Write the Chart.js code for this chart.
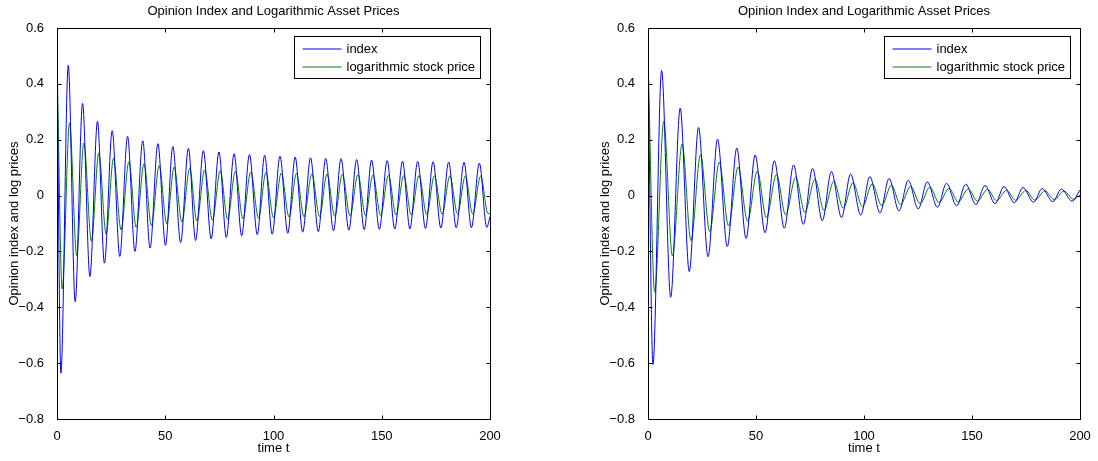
<!DOCTYPE html>
<html>
<head>
<meta charset="utf-8">
<title>Opinion Index and Logarithmic Asset Prices</title>
<script src="https://cdn.jsdelivr.net/npm/chart.js@4.4.1/dist/chart.umd.min.js"></script>
<style>
  html, body { margin: 0; padding: 0; background: #fff; }
  #wrap { position: relative; width: 1098px; height: 461px; }
  canvas { position: absolute; top: 0; }
</style>
</head>
<body>
<div id="wrap">
  <canvas id="leftChart" width="549" height="461" style="left:0"></canvas>
  <canvas id="rightChart" width="549" height="461" style="left:549px"></canvas>
</div>
<script>
// text
const chartTitle = 'Opinion Index and Logarithmic Asset Prices';
const xTitle = 'time t';
const yTitle = 'Opinion index and log prices';
const legendLabels = ['index', 'logarithmic stock price'];

// axes
const xTicks = [0, 50, 100, 150, 200];
const yTicks = [-0.8, -0.6, -0.4, -0.2, 0, 0.2, 0.4, 0.6];

// left panel: turning points (time, value)
const leftIndexT = [0, 1.8, 5.2, 8.4, 11.8, 15.2, 18.7, 21.9, 25.5, 29, 32.6, 36, 39.6, 43, 46.6, 50.1, 53.5, 57.1, 60.7, 64,
  67.6, 71.2, 74.8, 78.2, 81.8, 85.3, 88.9, 92.5, 95.9, 99.4, 103, 106.6, 110, 113.5, 117.1, 120.7, 124.1, 127.7, 131.2, 134.8,
  138.4, 141.9, 145.3, 148.9, 152.5, 156, 159.6, 163, 166.6, 170.2, 173.7, 177.3, 180.9, 184.4, 188, 191.4, 195.1, 198.5, 200];
const leftIndexV = [0.5, -0.636, 0.466, -0.38, 0.33, -0.29, 0.266, -0.242, 0.232, -0.218, 0.212, -0.2, 0.196, -0.188, 0.186, -0.178, 0.176, -0.168, 0.169, -0.161,
  0.161, -0.155, 0.156, -0.15, 0.15, -0.144, 0.147, -0.14, 0.144, -0.138, 0.141, -0.135, 0.138, -0.131, 0.135, -0.129, 0.133, -0.126, 0.132, -0.124,
  0.129, -0.122, 0.127, -0.121, 0.125, -0.12, 0.123, -0.119, 0.122, -0.118, 0.121, -0.116, 0.12, -0.115, 0.119, -0.115, 0.116, -0.114, -0.075];

const leftPriceT = [0, 2.4, 5.8, 9.1, 12.4, 15.9, 19.3, 22.7, 26.1, 29.6, 33.2, 36.6, 40.2, 43.6, 47.2, 50.7, 54.1, 57.7, 61.3, 64.6,
  68.2, 71.8, 75.4, 78.8, 82.4, 85.9, 89.5, 93.1, 96.5, 100, 103.6, 107.2, 110.6, 114.1, 117.7, 121.3, 124.7, 128.3, 131.8, 135.4,
  139, 142.5, 145.9, 149.5, 153.1, 156.6, 160.2, 163.6, 167.2, 170.8, 174.3, 177.9, 181.5, 185, 188.6, 192, 195.7, 199.1, 200];
const leftPriceV = [0.5, -0.335, 0.26, -0.215, 0.188, -0.164, 0.152, -0.138, 0.133, -0.123, 0.121, -0.114, 0.114, -0.107, 0.107, -0.101, 0.102, -0.095, 0.097, -0.091,
  0.092, -0.088, 0.089, -0.085, 0.087, -0.083, 0.085, -0.081, 0.083, -0.079, 0.081, -0.077, 0.079, -0.076, 0.078, -0.075, 0.077, -0.074, 0.076, -0.073,
  0.075, -0.072, 0.074, -0.071, 0.073, -0.07, 0.072, -0.069, 0.072, -0.068, 0.071, -0.067, 0.071, -0.066, 0.07, -0.066, 0.07, -0.065, -0.064];

// right panel
const rightIndexT = [0, 2.3, 6.3, 10.5, 14.9, 19.1, 23.4, 27.8, 32.2, 36.7, 41.1, 45.4, 49.6, 54.2, 58.5, 63.1, 67.4, 71.9, 76.2, 80.7,
  84.9, 89.6, 93.8, 98.5, 102.7, 107.4, 111.6, 116.2, 120.5, 125.1, 129.3, 134, 138.2, 142.9, 147.1, 151.8, 156, 160.7, 164.8, 169.6,
  173.6, 178.5, 182.5, 187.4, 191.4, 196.3, 200];
const rightIndexV = [0.5, -0.605, 0.448, -0.364, 0.313, -0.272, 0.244, -0.219, 0.202, -0.183, 0.17, -0.154, 0.145, -0.133, 0.125, -0.117, 0.11, -0.103, 0.097, -0.09,
  0.086, -0.079, 0.077, -0.07, 0.068, -0.062, 0.061, -0.055, 0.055, -0.048, 0.049, -0.042, 0.044, -0.037, 0.041, -0.032, 0.036, -0.029, 0.032, -0.026,
  0.029, -0.024, 0.025, -0.022, 0.023, -0.02, 0.02];

const rightPriceT = [0, 3.1, 7.3, 11.3, 15.8, 19.9, 24.3, 28.6, 33, 37.3, 41.7, 46.1, 50.6, 54.8, 59.5, 63.7, 68.4, 72.6, 77.3, 81.5,
  86, 90.4, 94.9, 99.3, 103.8, 108.2, 112.7, 116.9, 121.6, 126, 130.5, 134.7, 139.4, 143.6, 148.3, 152.5, 157.2, 161.4, 166, 170.2,
  174.9, 179.1, 183.8, 188, 192.7, 196.9, 200];
const rightPriceV = [0.5, -0.346, 0.265, -0.216, 0.185, -0.161, 0.146, -0.129, 0.119, -0.109, 0.102, -0.092, 0.087, -0.079, 0.075, -0.069, 0.066, -0.06, 0.058, -0.053,
  0.051, -0.045, 0.046, -0.04, 0.042, -0.036, 0.037, -0.032, 0.033, -0.029, 0.03, -0.025, 0.026, -0.023, 0.024, -0.02, 0.022, -0.018, 0.019, -0.017,
  0.018, -0.016, 0.017, -0.014, 0.016, -0.013, 0.002];

const FONT = "'Liberation Sans', Arial, Helvetica, sans-serif";
const BLUE = '#0000ff';
const GREEN = '#008000';

function toPoints(ts, vs) {
    return ts.map((t, i) => ({x: t, y: vs[i]}));
}

function fmtTick(v) {
    return v === 0 ? '0' : String(v).replace('-', '\u2212');
}

// box, inward ticks, title and legend in the matlab look
const matlabFrame = {
    id: 'matlabFrame',
    afterDatasetsDraw(chart) {
        const {ctx, chartArea: a, scales: {x, y}} = chart;
        const L = Math.round(a.left) + 0.5, R = Math.round(a.right) + 0.5;
        const T = Math.round(a.top) + 0.5, B = Math.round(a.bottom) + 0.5;
        ctx.save();
        ctx.strokeStyle = '#000';
        ctx.lineWidth = 1;
        ctx.strokeRect(L, T, R - L, B - T);
        ctx.beginPath();
        xTicks.forEach(v => {
            const px = Math.round(x.getPixelForValue(v)) + 0.5;
            ctx.moveTo(px, B); ctx.lineTo(px, B - 4);
            ctx.moveTo(px, T); ctx.lineTo(px, T + 4);
        });
        yTicks.forEach(v => {
            const py = Math.round(y.getPixelForValue(v)) + 0.5;
            ctx.moveTo(L, py); ctx.lineTo(L + 4, py);
            ctx.moveTo(R, py); ctx.lineTo(R - 4, py);
        });
        ctx.stroke();

        ctx.fillStyle = '#000';
        ctx.font = '13px ' + FONT;
        ctx.textAlign = 'center';
        ctx.textBaseline = 'middle';
        ctx.fillText(chartTitle, (a.left + a.right) / 2, 11);

        // legend
        ctx.textAlign = 'left';
        const textW = Math.max(...legendLabels.map(s => ctx.measureText(s).width));
        const bw = Math.round(52 + textW + 5), bh = 42;
        const bx = R - 10 - bw, by = T + 8;
        ctx.fillStyle = '#fff';
        ctx.fillRect(bx, by, bw, bh);
        ctx.strokeStyle = '#000';
        ctx.strokeRect(bx, by, bw, bh);
        const rows = [by + 12.5, by + 30.5];
        [BLUE, GREEN].forEach((c, i) => {
            ctx.beginPath();
            ctx.strokeStyle = c;
            ctx.lineWidth = 1.2;
            ctx.moveTo(bx + 8, Math.round(rows[i]));
            ctx.lineTo(bx + 47, Math.round(rows[i]));
            ctx.stroke();
            ctx.fillStyle = '#000';
            ctx.fillText(legendLabels[i], bx + 52, rows[i]);
        });
        ctx.restore();
    }
};

function renderPanel(id, indexT, indexV, priceT, priceV, pad) {
    const ctx = document.getElementById(id).getContext('2d');
    new Chart(ctx, {
        type: 'line',
        data: {
            datasets: [
                {label: legendLabels[0], data: toPoints(indexT, indexV), borderColor: BLUE, borderWidth: 1,
                 pointRadius: 0, fill: false, cubicInterpolationMode: 'monotone'},
                {label: legendLabels[1], data: toPoints(priceT, priceV), borderColor: GREEN, borderWidth: 1,
                 pointRadius: 0, fill: false, cubicInterpolationMode: 'monotone'}
            ]
        },
        options: {
            responsive: false, animation: false, devicePixelRatio: 1,
            layout: {padding: pad},
            plugins: {legend: {display: false}, title: {display: false}, tooltip: {enabled: false}},
            scales: {
                x: {
                    type: 'linear', min: 0, max: 200,
                    afterBuildTicks: s => { s.ticks = xTicks.map(v => ({value: v})); },
                    afterFit: s => { s.height = 42; },
                    grid: {display: false}, border: {display: false},
                    ticks: {color: '#000', font: {family: FONT, size: 13}, padding: 2, maxRotation: 0, autoSkip: false},
                    title: {display: true, text: xTitle, color: '#000', font: {family: FONT, size: 13}, padding: {top: 0, bottom: 5}}
                },
                y: {
                    type: 'linear', min: -0.8, max: 0.6,
                    afterBuildTicks: s => { s.ticks = yTicks.map(v => ({value: v})); },
                    afterFit: s => { s.width = 57; },
                    grid: {display: false}, border: {display: false},
                    ticks: {color: '#000', font: {family: FONT, size: 13}, padding: 5, autoSkip: false, callback: v => fmtTick(v)},
                    title: {display: true, text: yTitle, color: '#000', font: {family: FONT, size: 13}, padding: {top: 7, bottom: 0}}
                }
            }
        },
        plugins: [matlabFrame]
    });
}

renderPanel('leftChart', leftIndexT, leftIndexV, leftPriceT, leftPriceV, {left: 0, right: 59, top: 28, bottom: 0});
renderPanel('rightChart', rightIndexT, rightIndexV, rightPriceT, rightPriceV, {left: 42, right: 18, top: 28, bottom: 0});
</script>
</body>
</html>
